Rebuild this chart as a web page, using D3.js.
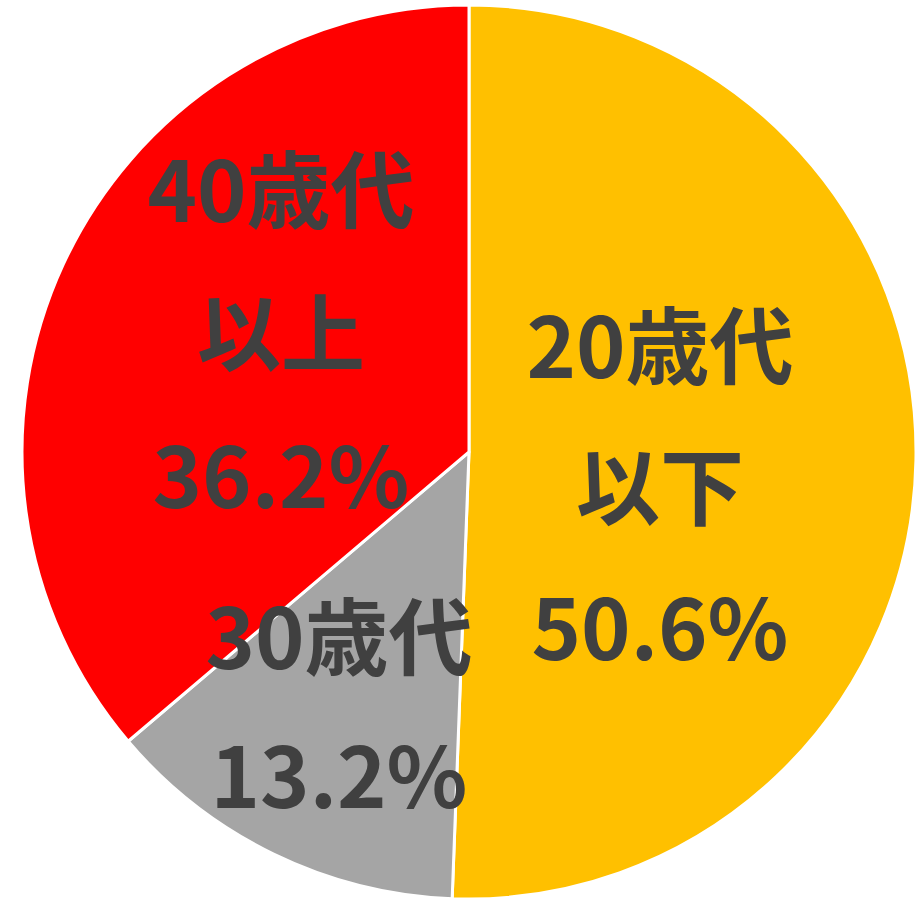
<!DOCTYPE html>
<html><head><meta charset="utf-8">
<script src="https://cdn.jsdelivr.net/npm/d3@7"></script>
<style>html,body{margin:0;padding:0;background:#fff;}svg{display:block;}</style>
</head><body>
<script>
const categories = ["20歳代以下", "30歳代", "40歳代以上"];
const values = [50.6, 13.2, 36.2];
const labelLines = [["20歳代", "以下", "50.6%"], ["30歳代", "13.2%"], ["40歳代", "以上", "36.2%"]];
const colors = ["#FFC000", "#A5A5A5", "#FF0000"];

const W = 915, H = 899;
const cx = 469, cy = 452, R = 447;
// label anchor (center x, first baseline y) and line spacing, layout only
const labelPos = [[660, 378], [339, 669], [281, 222]];
const lineGap = [141, 139, 143];

const svg = d3.select("body").append("svg").attr("width", W).attr("height", H);
const g = svg.append("g").attr("transform", `translate(${cx},${cy})`);
const pie = d3.pie().sort(null).value(d => d)(values);
const arc = d3.arc().innerRadius(0).outerRadius(R);
g.selectAll("path").data(pie).join("path")
  .attr("d", arc).attr("fill", (d, i) => colors[i])
  .attr("stroke", "#fff").attr("stroke-width", 3).attr("stroke-linejoin", "round");

const lab = svg.append("g");
labelLines.forEach((lines, i) => {
  const t = lab.append("text")
    .attr("text-anchor", "middle")
    .attr("font-family", "'Noto Sans CJK JP', 'Noto Sans', sans-serif")
    .attr("font-weight", "bold").attr("font-size", 84).attr("fill", "#404040");
  lines.forEach((s, k) => {
    t.append("tspan").attr("x", labelPos[i][0]).attr("y", labelPos[i][1] + k * lineGap[i]).text(s);
  });
});
</script>
</body></html>
